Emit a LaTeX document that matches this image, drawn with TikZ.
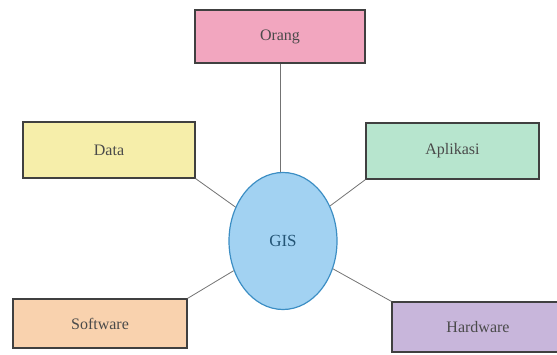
\documentclass[tikz,border=0pt]{standalone}
\usepackage{fontspec}
\setmainfont{Liberation Serif}
\usetikzlibrary{shapes.geometric}
\definecolor{cpink}{HTML}{F2A6BF}
\definecolor{cyellow}{HTML}{F6EEAA}
\definecolor{cmint}{HTML}{B7E5CE}
\definecolor{cpeach}{HTML}{F9D2AE}
\definecolor{clav}{HTML}{C8B6DB}
\definecolor{cblue}{HTML}{A2D2F2}
\definecolor{cblueline}{HTML}{3C8EC4}
\definecolor{ctext}{HTML}{4A4A4A}
\tikzset{
  box/.style={draw=black!75, line width=1.2pt, rectangle, inner sep=0pt, text=ctext, font=\fontsize{16}{18}\selectfont},
  link/.style={draw=black!55, line width=0.8pt},
}
\begin{document}
\begin{tikzpicture}[x=1pt,y=-1pt]
\clip (0,0) rectangle (557,355);
\useasboundingbox (0,0) rectangle (557,355);
\node[box, fill=cpink, minimum width=170pt, minimum height=53pt] (orang) at (280,36.5) {Orang};
\node[box, fill=cyellow, minimum width=172pt, minimum height=56pt] (data) at (109,150) {Data};
\node[box, fill=cmint, minimum width=173pt, minimum height=56pt] (aplikasi) at (452.5,151) {Aplikasi};
\node[box, fill=cpeach, minimum width=174pt, minimum height=49pt] (software) at (100,323.5) {Software};
\node[box, fill=clav, minimum width=172pt, minimum height=50pt] (hardware) at (478,327) {Hardware};
\node[ellipse, draw=cblueline, line width=1.2pt, fill=cblue, minimum width=108pt, minimum height=137pt, inner sep=0pt, text=cblueline!60!black, font=\fontsize{17}{19}\selectfont] (gis) at (283,241) {GIS};
\draw[link] (orang.south) -- (orang.south |- gis.north);
\draw[link] (data.south east) -- (gis);
\draw[link] (aplikasi.south west) -- (gis);
\draw[link] (software.north east) -- (gis);
\draw[link] (hardware.north west) -- (gis);
\end{tikzpicture}
\end{document}
